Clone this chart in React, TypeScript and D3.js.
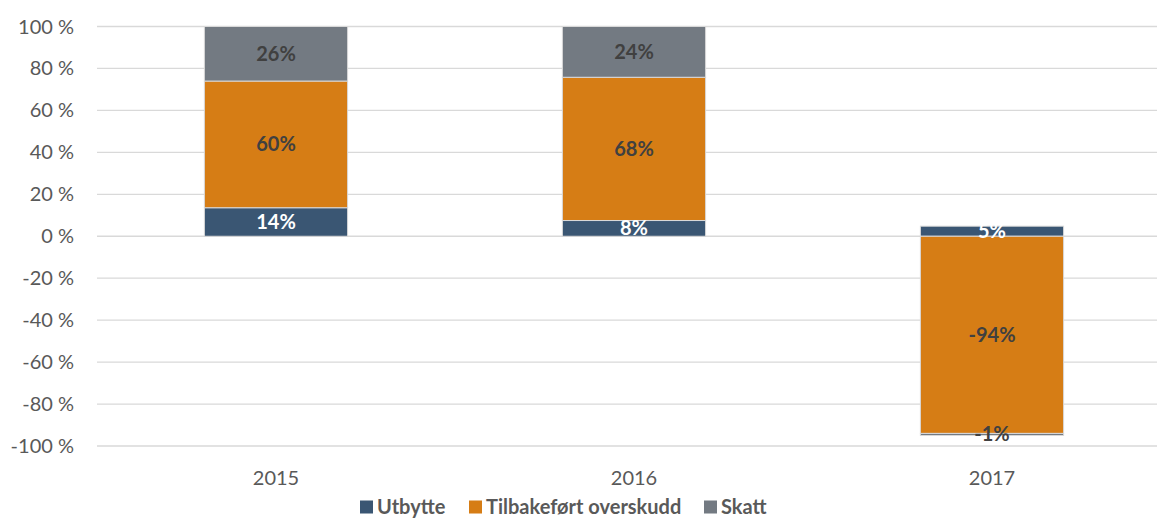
import React from "react";
import * as d3 from "d3";

const years = ["2015", "2016", "2017"];
const utbytte = [13.6, 7.5, 4.8];
const tilbakefort = [60.4, 68.3, -94];
const skatt = [26, 24.2, -1];
const yTicks = [100, 80, 60, 40, 20, 0, -20, -40, -60, -80, -100];
const seriesNames = ["Utbytte", "Tilbakeført overskudd", "Skatt"];
const seriesColors = ["#3a5673", "#d67d15", "#737a82"];
const labelColors = ["#ffffff", "#404040", "#404040"];

const W = 1157;
const H = 518;
const FONT = "Lato, 'Open Sans', sans-serif";

export default function App() {
  const x = d3.scaleBand<string>().domain(years).range([97, 1171]).padding(0);
  const y = d3.scaleLinear().domain([-100, 100]).range([446, 26.5]);
  const barW = x.bandwidth() * 0.4;
  const all = [utbytte, tilbakefort, skatt];

  // stack with positive/negative offsets
  const rows = years.map((yr, i) => {
    const o: any = { year: yr };
    seriesNames.forEach((s, k) => (o[s] = all[k][i]));
    return o;
  });
  const stacked = d3.stack<any>().keys(seriesNames).offset(d3.stackOffsetDiverging)(rows);

  const legendX = [360, 469, 704];

  return (
    <svg width={W} height={H} style={{ position: "absolute", left: 0, top: 0 }} fontFamily={FONT}>
      <rect width={W} height={H} fill="#fff" />
      {yTicks.map((t) => (
        <g key={t}>
          <line x1={97} x2={1171} y1={y(t)} y2={y(t)} stroke="#d9d9d9" strokeWidth={1.3} />
          <text x={74} y={y(t)} dy="0.35em" textAnchor="end" fontSize={20} fill="#595959">
            {t} %
          </text>
        </g>
      ))}
      {stacked.map((layer, k) => (
        <g key={layer.key}>
          {layer.map((d, i) => {
            const y0 = Math.max(y(d[0]), y(d[1]));
            const y1 = Math.min(y(d[0]), y(d[1]));
            const cx = (x(years[i]) as number) + x.bandwidth() / 2;
            return (
              <g key={i}>
                <rect
                  x={cx - barW / 2}
                  y={y1}
                  width={barW}
                  height={y0 - y1}
                  fill={seriesColors[k]}
                  stroke="#d9d9d9"
                  strokeWidth={1}
                />
              </g>
            );
          })}
        </g>
      ))}
      {stacked.map((layer, k) => (
        <g key={"l" + layer.key}>
          {layer.map((d, i) => {
            const cx = (x(years[i]) as number) + x.bandwidth() / 2;
            const cy = (y(d[0]) + y(d[1])) / 2;
            return (
              <text
                key={i}
                x={cx}
                y={cy}
                dy="0.35em"
                textAnchor="middle"
                fontSize={20}
                fontWeight="bold"
                fill={labelColors[k]}
              >
                {Math.round(all[k][i])}%
              </text>
            );
          })}
        </g>
      ))}
      {years.map((yr) => (
        <text
          key={yr}
          x={(x(yr) as number) + x.bandwidth() / 2}
          y={478}
          dy="0.35em"
          textAnchor="middle"
          fontSize={20}
          fill="#595959"
        >
          {yr}
        </text>
      ))}
      {seriesNames.map((s, k) => (
        <g key={s}>
          <rect x={legendX[k]} y={500.5} width={13} height={13} fill={seriesColors[k]} />
          <text x={legendX[k] + 17} y={507} dy="0.35em" fontSize={20} fontWeight="bold" fill="#595959">
            {s}
          </text>
        </g>
      ))}
    </svg>
  );
}
